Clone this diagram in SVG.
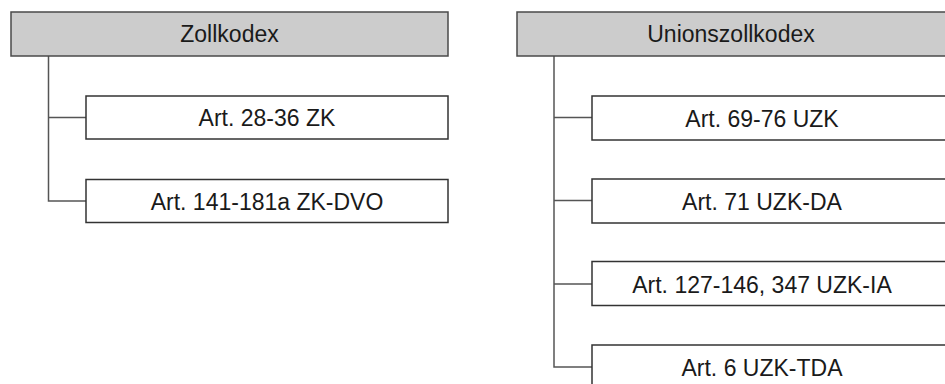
<svg xmlns="http://www.w3.org/2000/svg" width="945" height="384" viewBox="0 0 945 384">
<style>
.p{fill:#cccccc;stroke:#4a4a4a;stroke-width:1.5}
.c{fill:#ffffff;stroke:#333333;stroke-width:1.5}
.t{font-family:"Liberation Sans",Arial,sans-serif;font-size:23px;fill:#1a1a1a;text-anchor:middle}
.l{fill:none;stroke:#555555;stroke-width:1.5}
</style>
<rect width="945" height="384" fill="#ffffff"/>
<g id="connectors">
<path class="l" d="M48.5 56 V201 H86 M48.5 117.5 H86"/>
<path class="l" d="M554 56 V367 H592 M554 117.5 H592 M554 200.5 H592 M554 284 H592"/>
</g>
<g id="zollkodex"><rect class="p" x="11" y="12" width="437" height="44"/><text class="t" x="229.5" y="42">Zollkodex</text></g>
<g id="zk1"><rect class="c" x="86" y="96" width="362" height="43"/><text class="t" x="267" y="126">Art. 28-36 ZK</text></g>
<g id="zk2"><rect class="c" x="86" y="179.5" width="362" height="43"/><text class="t" x="267" y="209.5">Art. 141-181a ZK-DVO</text></g>
<g id="unionszollkodex"><rect class="p" x="517" y="12" width="440" height="44"/><text class="t" x="731" y="42">Unionszollkodex</text></g>
<g id="uzk1"><rect class="c" x="592" y="96" width="360" height="44"/><text class="t" x="762" y="126.5">Art. 69-76 UZK</text></g>
<g id="uzk2"><rect class="c" x="592" y="179" width="360" height="44"/><text class="t" x="762" y="209.5">Art. 71 UZK-DA</text></g>
<g id="uzk3"><rect class="c" x="592" y="261.5" width="360" height="44"/><text class="t" x="762" y="292.5">Art. 127-146, 347 UZK-IA</text></g>
<g id="uzk4"><rect class="c" x="592" y="345" width="360" height="44"/><text class="t" x="762" y="375.5">Art. 6 UZK-TDA</text></g>
</svg>
